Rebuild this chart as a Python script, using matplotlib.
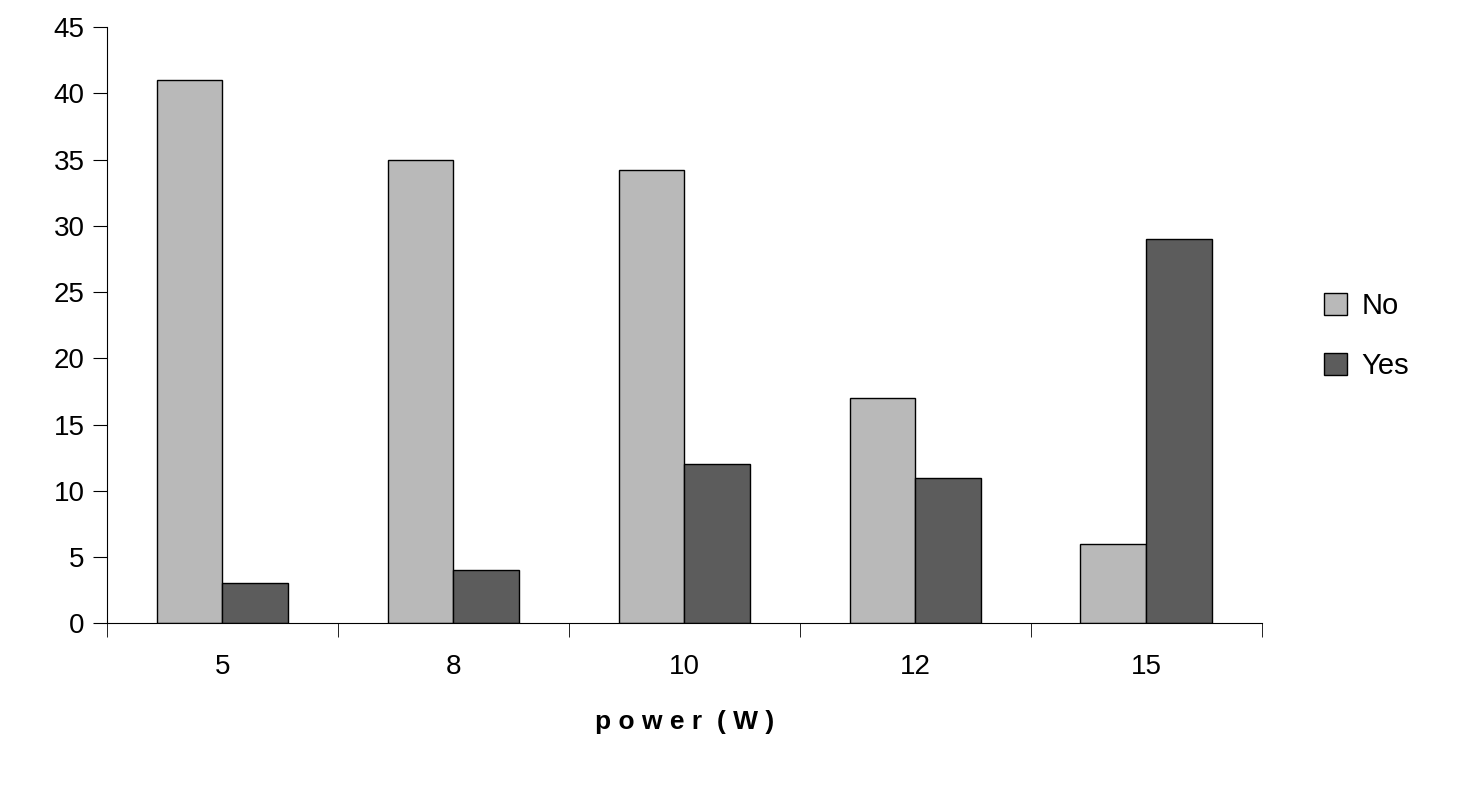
import matplotlib
matplotlib.use("Agg")
import matplotlib.pyplot as plt
import numpy as np

categories = ["5", "8", "10", "12", "15"]
no_vals = [41, 35, 34.2, 17, 6]
yes_vals = [3, 4, 12, 11, 29]

plt.rcParams['font.family'] = ['Liberation Sans', 'DejaVu Sans']
fig = plt.figure(figsize=(14.58, 8), dpi=100)
ax = fig.add_axes([0.0734, 0.221, 0.792, 0.745])
x = np.arange(len(categories))
w = 0.285
ax.bar(x - w/2, no_vals, w, color='#b9b9b9', edgecolor='black', linewidth=1, label='No')
ax.bar(x + w/2, yes_vals, w, color='#5c5c5c', edgecolor='black', linewidth=1, label='Yes')
ax.set_xlim(-0.5, 4.5)
ax.set_ylim(0, 45)
ax.set_yticks(range(0, 46, 5))
ax.set_xticks(x)
ax.set_xticklabels(categories)
ax.set_xticks(np.arange(-0.5, 4.6, 1), minor=True)
ax.tick_params(axis='x', which='major', length=0, pad=22, labelsize=20)
ax.tick_params(axis='x', which='minor', length=10, direction='out')
ax.tick_params(axis='y', length=10, direction='out', labelsize=20, pad=6)
for s in ['top', 'right']:
    ax.spines[s].set_visible(False)
ax.set_xlabel('p o w e r  ( W )', fontsize=19, fontweight='bold', labelpad=22)
fig.legend(loc='center left', bbox_to_anchor=(0.89, 0.58), frameon=False, fontsize=21,
           handlelength=0.8, handleheight=0.8, labelspacing=1.1, handletextpad=0.5)
fig.savefig('out.png', dpi=100)
